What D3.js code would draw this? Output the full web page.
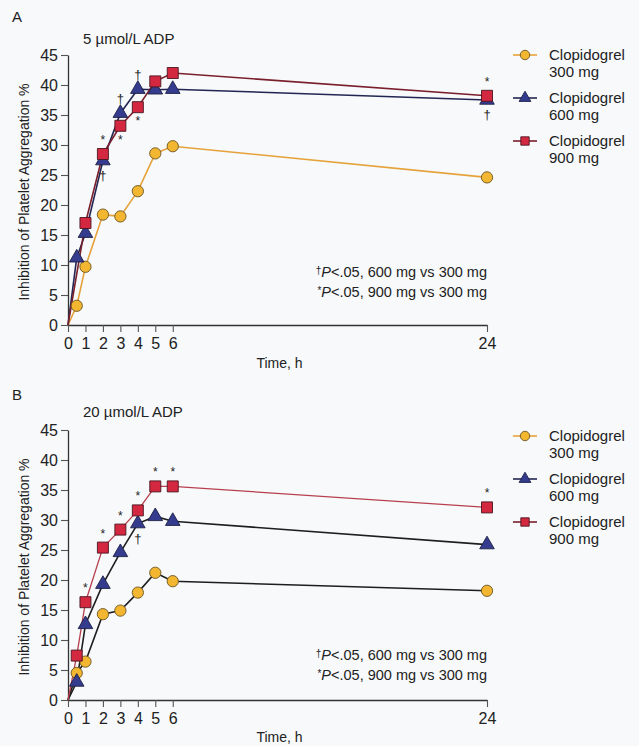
<!DOCTYPE html>
<html><head><meta charset="utf-8">
<script src="https://cdn.jsdelivr.net/npm/d3@7"></script>
<style>
html,body{margin:0;padding:0;background:#f7f9fb;}
svg{display:block;font-family:"Liberation Sans",Arial,Helvetica,sans-serif;}
</style></head>
<body>
<svg id="c" width="639" height="746"></svg>
<script>
// ---- data ----
const timesA300 = [0, 0.5, 1, 2, 3, 4, 5, 6, 24];
const valsA300  = [0, 3.2, 9.7, 18.4, 18.1, 22.3, 28.6, 29.8, 24.6];
const timesA600 = [0, 0.5, 1, 2, 3, 4, 5, 6, 24];
const valsA600  = [0, 11.2, 15.3, 27.4, 35.3, 39.3, 39.2, 39.3, 37.5];
const timesA900 = [0, 1, 2, 3, 4, 5, 6, 24];
const valsA900  = [0, 17.0, 28.5, 33.2, 36.3, 40.6, 42.0, 38.2];

const timesB300 = [0, 0.5, 1, 2, 3, 4, 5, 6, 24];
const valsB300  = [0, 4.5, 6.4, 14.3, 14.9, 17.9, 21.2, 19.8, 18.2];
const timesB600 = [0, 0.5, 1, 2, 3, 4, 5, 6, 24];
const valsB600  = [0, 3.0, 12.6, 19.3, 24.6, 29.4, 30.6, 29.8, 25.9];
const timesB900 = [0, 0.5, 1, 2, 3, 4, 5, 6, 24];
const valsB900  = [0, 7.4, 16.3, 25.4, 28.4, 31.6, 35.6, 35.6, 32.1];

const seriesNames = ["Clopidogrel 300 mg", "Clopidogrel 600 mg", "Clopidogrel 900 mg"];
const yTicks = [0, 5, 10, 15, 20, 25, 30, 35, 40, 45];
const xTicks = [0, 1, 2, 3, 4, 5, 6, 24];
const panelLetters = ["A", "B"];
const panelTitles = ["5 \u00b5mol/L ADP", "20 \u00b5mol/L ADP"];
const yLabel = "Inhibition of Platelet Aggregation %";
const xLabel = "Time, h";
const noteLines = [["\u2020", "P", "<.05, 600 mg vs 300 mg"], ["*", "P", "<.05, 900 mg vs 300 mg"]];

// significance marks: [time, series index (0=300,1=600,2=900), symbol, side]
const marksA = [[2, 2, "*", "above"], [2, 1, "\u2020", "below"],
                [3, 1, "\u2020", "above"], [3, 2, "*", "below"],
                [4, 1, "\u2020", "above"], [4, 2, "*", "below"],
                [24, 2, "*", "above"], [24, 1, "\u2020", "below"]];
const marksB = [[1, 2, "*", "above"], [2, 2, "*", "above"], [3, 2, "*", "above"],
                [4, 2, "*", "above"], [5, 2, "*", "above"], [6, 2, "*", "above"],
                [24, 2, "*", "above"], [4, 1, "\u2020", "below"]];

// ---- styles ----
const markerFill = ["#f2b630", "#353c8e", "#d3283f"];
const markerStroke = ["#6b5420", "#1d1f45", "#4a1520"];
const lineColA = ["#e6a23a", "#232652", "#7a1f2c"];
const lineColB = ["#1e1e1e", "#1e1e1e", "#b8404e"];
const legendLineCol = ["#e6a23a", "#232652", "#7a1f2c"];
const symbols = [d3.symbolCircle, d3.symbolTriangle, d3.symbolSquare];
const symSize = [100, 92, 121];

const svg = d3.select("#c");

const panels = [
  {y0: 325, y1: 55, letterY: 22, titleY: 44,
   data: [[timesA300, valsA300], [timesA600, valsA600], [timesA900, valsA900]],
   lineCol: lineColA, marks: marksA, noteY: 273, xLabY: 368, legY: 55},
  {y0: 700, y1: 430, letterY: 400, titleY: 417,
   data: [[timesB300, valsB300], [timesB600, valsB600], [timesB900, valsB900]],
   lineCol: lineColB, marks: marksB, noteY: 656, xLabY: 742, legY: 436}
];

const x = d3.scaleLinear().domain([0, 24]).range([68, 487]);

panels.forEach((p, pi) => {
  const y = d3.scaleLinear().domain([0, 45]).range([p.y0, p.y1]);
  const g = svg.append("g");

  g.append("text").attr("x", 12).attr("y", p.letterY).attr("font-size", 15).attr("fill", "#222").text(panelLetters[pi]);
  g.append("text").attr("x", 83).attr("y", p.titleY).attr("font-size", 15).attr("fill", "#222").text(panelTitles[pi]);

  const ya = g.append("g").attr("transform", `translate(${x(0)},0)`)
    .call(d3.axisLeft(y).tickValues(yTicks).tickSize(7).tickSizeOuter(0).tickPadding(3));
  const xa = g.append("g").attr("transform", `translate(0,${p.y0})`)
    .call(d3.axisBottom(x).tickValues(xTicks).tickSize(7).tickSizeOuter(0).tickPadding(4));
  [ya, xa].forEach(a => {
    a.select(".domain").attr("stroke", "#333").attr("stroke-width", 1.3);
    a.selectAll(".tick line").attr("stroke", "#555").attr("stroke-width", 1.1);
    a.selectAll(".tick text").attr("font-size", 16).attr("fill", "#222")
      .attr("font-family", "'Liberation Sans',Arial,sans-serif");
  });
  xa.selectAll(".tick text").attr("dy", "0.8em");

  g.append("text").attr("transform", `translate(29,${(p.y0 + p.y1) / 2 + 2}) rotate(-90)`)
    .attr("text-anchor", "middle").attr("font-size", 14).attr("fill", "#222").text(yLabel);
  g.append("text").attr("x", (x(0) + x(24)) / 2 + 2).attr("y", p.xLabY).attr("text-anchor", "middle")
    .attr("font-size", 14).attr("fill", "#222").text(xLabel);

  const line = d3.line().x(d => x(d[0])).y(d => y(d[1]));
  const drawOrder = [0, 1, 2];
  drawOrder.forEach(si => {
    const [ts, vs] = p.data[si];
    const pts = ts.map((t, i) => [t, vs[i]]);
    g.append("path").datum(pts).attr("d", line).attr("fill", "none")
      .attr("stroke", p.lineCol[si]).attr("stroke-width", si === 2 && pi === 1 ? 1.3 : 1.6);
  });
  drawOrder.forEach(si => {
    const [ts, vs] = p.data[si];
    const pts = ts.map((t, i) => [t, vs[i]]).filter(d => d[0] > 0);
    g.selectAll(null).data(pts).enter().append("path")
      .attr("d", d3.symbol().type(symbols[si]).size(symSize[si]))
      .attr("transform", d => `translate(${x(d[0])},${y(d[1])})`)
      .attr("fill", markerFill[si]).attr("stroke", markerStroke[si]).attr("stroke-width", 0.9);
  });

  p.marks.forEach(m => {
    const [t, si, sym, side] = m;
    const [ts, vs] = p.data[si];
    const v = vs[ts.indexOf(t)];
    const yy = y(v) + (side === "above" ? -10 : (sym === "*" ? 18 : 19));
    g.append("text").attr("x", x(t)).attr("y", yy).attr("text-anchor", "middle")
      .attr("font-size", sym === "*" ? 12 : 13).attr("fill", "#222").text(sym);
  });

  noteLines.forEach((nl, i) => {
    const t = g.append("text").attr("x", 487).attr("y", p.noteY + 4 + i * 20).attr("text-anchor", "end")
      .attr("font-size", 14.5).attr("fill", "#222");
    t.append("tspan").attr("font-size", 10).attr("dy", -3).text(nl[0]);
    t.append("tspan").attr("font-style", "italic").attr("dy", 3).text(nl[1]);
    t.append("tspan").text(nl[2]);
  });

  seriesNames.forEach((name, si) => {
    const ly = p.legY + si * 43;
    const lg = g.append("g");
    lg.append("line").attr("x1", 513).attr("x2", 537).attr("y1", ly).attr("y2", ly)
      .attr("stroke", legendLineCol[si]).attr("stroke-width", 1.6);
    lg.append("path").attr("d", d3.symbol().type(symbols[si]).size(si === 1 ? 60 : 70))
      .attr("transform", `translate(525,${ly})`)
      .attr("fill", markerFill[si]).attr("stroke", markerStroke[si]).attr("stroke-width", 0.9);
    const parts = name.split(" ");
    lg.append("text").attr("x", 549).attr("y", ly + 5).attr("font-size", 15).attr("fill", "#222").text(parts[0]);
    lg.append("text").attr("x", 549).attr("y", ly + 22).attr("font-size", 15).attr("fill", "#222").text(parts.slice(1).join(" "));
  });
});
</script>
</body></html>
